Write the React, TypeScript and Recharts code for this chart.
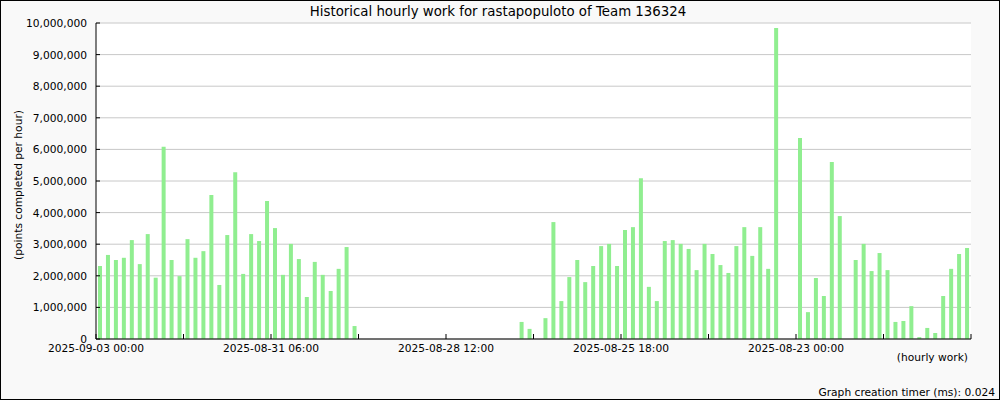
import { BarChart, Bar, XAxis, YAxis, CartesianGrid } from "recharts";

// points completed per hour, newest slot first (left) to oldest (right)
const hourlyPoints = [
  2310000, 2660000, 2500000, 2570000, 3130000, 2370000, 3320000, 1940000, 6080000, 2500000,
  1990000, 3160000, 2570000, 2780000, 4560000, 1710000, 3290000, 5280000, 2060000, 3320000,
  3100000, 4370000, 3510000, 2030000, 3010000, 2530000, 1330000, 2440000, 2030000, 1520000,
  2220000, 2910000, 410000, 0, 0, 0, 0, 0, 0, 0,
  0, 0, 0, 0, 0, 0, 0, 0, 0, 0,
  0, 0, 0, 540000, 320000, 0, 660000, 3700000, 1200000, 1960000,
  2500000, 1800000, 2310000, 2940000, 3010000, 2310000, 3450000, 3540000, 5090000, 1650000,
  1200000, 3100000, 3130000, 3010000, 2850000, 2180000, 3010000, 2690000, 2340000, 2090000,
  2940000, 3540000, 2630000, 3540000, 2220000, 9840000, 0, 0, 6360000, 850000,
  1930000, 1360000, 5600000, 3890000, 0, 2500000, 3010000, 2150000, 2720000, 2180000,
  540000, 570000, 1040000, 60000, 350000, 190000, 1360000, 2220000, 2690000, 2880000,
];

const xTickSlots = [0, 11, 22, 33, 44, 55, 66, 77, 88, 99, 110];
const xTickLabels = [
  "2025-09-03 00:00", "", "2025-08-31 06:00", "", "2025-08-28 12:00", "",
  "2025-08-25 18:00", "", "2025-08-23 00:00", "", "",
];
const yTicks = [0, 1000000, 2000000, 3000000, 4000000, 5000000, 6000000, 7000000, 8000000, 9000000, 10000000];

const chartTitle = "Historical hourly work for rastapopuloto of Team 136324";
const yAxisTitle = "(points completed per hour)";
const xAxisTitle = "(hourly work)";
const timerNote = "Graph creation timer (ms): 0.024";

const data = hourlyPoints.map((points, i) => ({ slot: i + 0.5, points }));

const font = "'DejaVu Sans', sans-serif";

const YTick = (props: any) => {
  const { x, y, payload } = props;
  return (
    <g>
      <line x1={x} x2={x + 4} y1={y} y2={y} stroke="#000" />
      <text x={x - 9} y={y + 4} textAnchor="end" fontSize={10.67} fontFamily={font} fill="#000">
        {payload.value.toLocaleString("en-US")}
      </text>
    </g>
  );
};

const XTick = (props: any) => {
  const { x, y, payload } = props;
  const label = xTickLabels[xTickSlots.indexOf(payload.value)] || "";
  return (
    <g>
      <line x1={x} x2={x} y1={y} y2={y - 5} stroke="#000" />
      {label && (
        <text x={x} y={y + 13} textAnchor="middle" fontSize={10.67} fontFamily={font} fill="#000">
          {label}
        </text>
      )}
    </g>
  );
};

export default function App() {
  return (
    <div style={{ position: "absolute", left: 0, top: 0, width: 1000, height: 400, background: "#f9f9f9" }}>
      <BarChart width={1000} height={400} data={data} margin={{ top: 23, right: 29, left: 0, bottom: 0 }}>
        <CartesianGrid vertical={false} stroke="#c8c8c8" fill="#ffffff" />
        <XAxis
          dataKey="slot"
          type="number"
          domain={[0, 110]}
          ticks={xTickSlots}
          interval={0}
          height={61}
          tickSize={0}
          tickMargin={0}
          tickLine={false}
          axisLine={{ stroke: "#000" }}
          tick={<XTick />}
        />
        <YAxis
          domain={[0, 10000000]}
          ticks={yTicks}
          interval={0}
          width={96}
          tickSize={0}
          tickMargin={0}
          tickLine={false}
          axisLine={{ stroke: "#000" }}
          tick={<YTick />}
        />
        <Bar dataKey="points" fill="#90ee90" barSize={4} isAnimationActive={false} />
      </BarChart>
      <svg width={1000} height={400} style={{ position: "absolute", left: 0, top: 0, pointerEvents: "none" }}>
        <text x={498} y={16} textAnchor="middle" fontSize={13.33} fontFamily={font} fill="#000">
          {chartTitle}
        </text>
        <text
          x={22}
          y={185}
          textAnchor="middle"
          fontSize={10.67}
          fontFamily={font}
          fill="#000"
          transform="rotate(-90, 22, 185)"
        >
          {yAxisTitle}
        </text>
        <text x={968} y={361} textAnchor="end" fontSize={10.67} fontFamily={font} fill="#000">
          {xAxisTitle}
        </text>
        <text x={995} y={396} textAnchor="end" fontSize={10.67} fontFamily={font} fill="#000">
          {timerNote}
        </text>
        <rect x={0.5} y={0.5} width={999} height={399} fill="none" stroke="#000" />
      </svg>
    </div>
  );
}
